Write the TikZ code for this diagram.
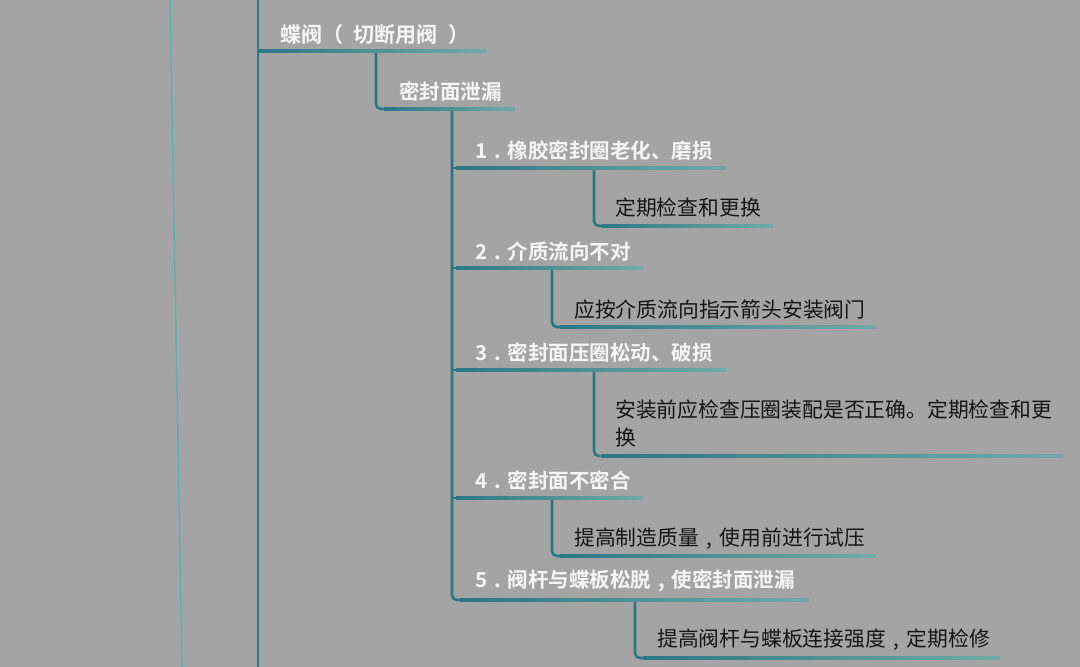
\documentclass[tikz,border=0pt]{standalone}
\usepackage{fontspec}
\newfontfamily\cjk{Noto Sans CJK SC}[BoldFont={Noto Sans CJK SC Bold}]
\definecolor{bg}{HTML}{A4A4A4}
\definecolor{lineA}{HTML}{2A7886}
\definecolor{lineB}{HTML}{72AAA6}
\definecolor{farline}{HTML}{5FB3AB}
\definecolor{headtxt}{HTML}{F6F6F6}
\definecolor{leaftxt}{HTML}{151515}
\newcommand{\ndot}{\makebox[1em][c]{.}}
\newcommand{\ccomma}{\makebox[1em][c]{,}}
\newcommand{\lpar}{\makebox[1.5em][c]{\hspace*{-0.5em}（}}
\newcommand{\rpar}{\makebox[1.5em][c]{\hspace*{0.5em}）}}
\begin{document}
\begin{tikzpicture}[x=1pt,y=-1pt,
  head/.style={anchor=west,inner sep=0pt,font=\cjk\bfseries\fontsize{20.5}{25}\selectfont,text=headtxt},
  top/.style={head,font=\cjk\bfseries\fontsize{21}{26}\selectfont},
  leaf/.style={anchor=west,inner sep=0pt,font=\cjk\fontsize{20.8}{28}\selectfont,text=leaftxt,align=left},
  conn/.style={draw=lineA,line width=2.6pt,rounded corners=5pt},
  uline/.style={left color=lineA,right color=lineB}]
\useasboundingbox (0,0) rectangle (1080,667);
\fill[bg] (0,0) rectangle (1080,667);
% far left line
\coordinate (fa) at (170,0); \coordinate (fb) at (182,667);
\draw[farline,line width=1.6pt] (fa) -- (fb);
% trunk
\coordinate (ta) at (258,0); \coordinate (tb) at (258,667);
\draw[lineA,line width=2.6pt] (ta) -- (tb);

% texts
\node[top] (t0) at (280,35) {蝶阀\lpar 切断用阀\rpar};
\node[head] (t1) at (399,92) {密封面泄漏};
\node[head] (c1) at (475,151) {1\ndot 橡胶密封圈老化、磨损};
\node[leaf] (l1) at (615,208) {定期检查和更换};
\node[head] (c2) at (475,252) {2\ndot 介质流向不对};
\node[leaf] (l2) at (574,310) {应按介质流向指示箭头安装阀门};
\node[head] (c3) at (475,353) {3\ndot 密封面压圈松动、破损};
\node[leaf] (l3) at (615,424) {安装前应检查压圈装配是否正确。定期检查和更\\换};
\node[head] (c4) at (475,481) {4\ndot 密封面不密合};
\node[leaf] (l4) at (574,539) {提高制造质量\ccomma 使用前进行试压};
\node[head] (c5) at (475,581) {5\ndot 阀杆与蝶板松脱\ccomma 使密封面泄漏};
\node[leaf] (l5) at (657,640) {提高阀杆与蝶板连接强度\ccomma 定期检修};

% underline end points
\coordinate (e0) at (487,51);
\coordinate (e1) at (515,109);
\coordinate (ec1) at (727,168);
\coordinate (el1) at (773,226);
\coordinate (ec2) at (643,268);
\coordinate (el2) at (876,327);
\coordinate (ec3) at (727,370);
\coordinate (el3) at (1063,456);
\coordinate (ec4) at (643,498);
\coordinate (el4) at (876,556);
\coordinate (ec5) at (809,600);
\coordinate (el5) at (1000,658);
% branch points
\coordinate (b0) at (258,51);
\coordinate (b1) at (376,51);
\coordinate (bc) at (452,109);
\coordinate (bl1) at (594,168);
\coordinate (bl2) at (552,268);
\coordinate (bl3) at (594,370);
\coordinate (bl4) at (552,498);
\coordinate (bl5) at (635,600);

% connectors (vertical + corner)
\draw[conn] (b1) |- ([xshift=-100pt]e1);
\draw[conn] (bc) |- ([xshift=-150pt]ec5);
\foreach \y in {168,268,370,498} \draw[conn] (bc|-0,\y) -- (470,\y);
\draw[conn] (bl1) |- ([xshift=-120pt]el1);
\draw[conn] (bl2) |- ([xshift=-120pt]el2);
\draw[conn] (bl3) |- ([xshift=-120pt]el3);
\draw[conn] (bl4) |- ([xshift=-120pt]el4);
\draw[conn] (bl5) |- ([xshift=-120pt]el5);

% gradient underlines
\shade[uline] ([yshift=-1.4pt]b0) rectangle ([yshift=1.4pt]e0);
\shade[uline] (384,107.6) rectangle ([yshift=-1.4pt]e1);
\shade[uline] (456,166.6) rectangle ([yshift=-1.4pt]ec1);
\shade[uline] (456,266.6) rectangle ([yshift=-1.4pt]ec2);
\shade[uline] (456,368.6) rectangle ([yshift=-1.4pt]ec3);
\shade[uline] (456,496.6) rectangle ([yshift=-1.4pt]ec4);
\shade[uline] (460,598.6) rectangle ([yshift=-1.4pt]ec5);
\shade[uline] (602,224.6) rectangle ([yshift=-1.4pt]el1);
\shade[uline] (560,325.6) rectangle ([yshift=-1.4pt]el2);
\shade[uline] (602,454.6) rectangle ([yshift=-1.4pt]el3);
\shade[uline] (560,554.6) rectangle ([yshift=-1.4pt]el4);
\shade[uline] (643,656.6) rectangle ([yshift=-1.4pt]el5);
\end{tikzpicture}
\end{document}
